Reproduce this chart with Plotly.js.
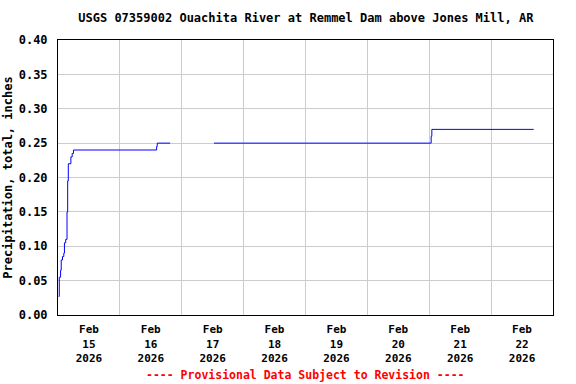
<!DOCTYPE html>
<html>
<head>
<meta charset="utf-8">
<script src="https://cdn.plot.ly/plotly-3.0.1.min.js"></script>
<style>html,body{margin:0;padding:0;background:#fff;}#chart{width:576px;height:384px;}</style>
</head>
<body>
<div id="chart"></div>
<script>
// Cumulative precipitation readings (time when value takes effect, inches)
const times = [
  '2026-02-15 00:15', '2026-02-15 00:30', '2026-02-15 01:00', '2026-02-15 01:15',
  '2026-02-15 01:45', '2026-02-15 02:15', '2026-02-15 02:30', '2026-02-15 03:00',
  '2026-02-15 03:30', '2026-02-15 03:45', '2026-02-15 04:00', '2026-02-15 05:00',
  '2026-02-15 05:30', '2026-02-15 06:00', '2026-02-16 14:15', '2026-02-16 14:30',
  '2026-02-16 19:30', '2026-02-17 00:00', '2026-02-17 12:30', '2026-02-21 00:45',
  '2026-02-21 01:00', '2026-02-22 16:30'
];
const precip = [
  0.027, 0.055, 0.065, 0.08,
  0.085, 0.09, 0.105, 0.11,
  0.15, 0.195, 0.22, 0.23,
  0.235, 0.24, 0.245, 0.25,
  0.25, null, 0.25, 0.26,
  0.27, 0.27
];

// Tick labels (centered on each day)
const tickDates = ['2026-02-15 12:00','2026-02-16 12:00','2026-02-17 12:00','2026-02-18 12:00',
                   '2026-02-19 12:00','2026-02-20 12:00','2026-02-21 12:00','2026-02-22 12:00'];
const tickMonth = ['Feb','Feb','Feb','Feb','Feb','Feb','Feb','Feb'];
const tickDay = ['15','16','17','18','19','20','21','22'];
const tickYear = ['2026','2026','2026','2026','2026','2026','2026','2026'];
const yTicks = [0, 0.05, 0.10, 0.15, 0.20, 0.25, 0.30, 0.35, 0.40];

const titleText = 'USGS 07359002 Ouachita River at Remmel Dam above Jones Mill, AR';
const yTitle = 'Precipitation, total, inches';
const noteText = '---- Provisional Data Subject to Revision ----';

const font = 'DejaVu Sans Mono, monospace';
const tickText = tickMonth.map((m, i) => '<b>' + m + '<br>' + tickDay[i] + '<br>' + tickYear[i] + '</b>');

const trace = {
  x: times, y: precip, type: 'scatter', mode: 'lines',
  line: {color: '#0000ff', width: 1, shape: 'hv'},
  connectgaps: false, hoverinfo: 'skip'
};

const layout = {
  width: 576, height: 384,
  margin: {l: 58, r: 23, t: 40, b: 69},
  paper_bgcolor: '#ffffff', plot_bgcolor: '#ffffff',
  showlegend: false,
  title: {text: '<b>' + titleText + '</b>', x: 0.531, xanchor: 'center', y: 0.953, yanchor: 'middle',
          font: {family: font, size: 12, color: '#000'}},
  xaxis: {
    type: 'date',
    range: ['2026-02-15 00:00', '2026-02-23 00:00'],
    tickmode: 'array', tickvals: tickDates, ticktext: tickText,
    tickfont: {family: font, size: 11, color: '#000'},
    showgrid: false, ticks: '', zeroline: false,
    showline: true, linecolor: '#000', linewidth: 1, mirror: true,
    ticklabelstandoff: 4,
    minor: {tickmode: 'linear', tick0: '2026-02-15 00:00', dtick: 86400000,
            showgrid: true, gridcolor: '#cccccc', gridwidth: 1, ticks: ''}
  },
  yaxis: {
    range: [0, 0.40],
    tickmode: 'array', tickvals: yTicks, ticktext: yTicks.map(v => '<b>' + v.toFixed(2) + '</b>'),
    tickfont: {family: font, size: 12, color: '#000'},
    showgrid: true, gridcolor: '#cccccc', gridwidth: 1, ticks: '', zeroline: false,
    showline: true, linecolor: '#000', linewidth: 1, mirror: true,
    ticklabelstandoff: 7,
    title: {text: '<b>' + yTitle + '</b>', font: {family: font, size: 12, color: '#000'}, standoff: 3}
  },
  annotations: [{
    text: '<b>' + noteText + '</b>', xref: 'paper', yref: 'paper',
    x: 0.5, y: -0.218, xanchor: 'center', yanchor: 'middle', showarrow: false,
    font: {family: font, size: 11.5, color: '#ff0000'}
  }]
};

Plotly.newPlot('chart', [trace], layout, {displayModeBar: false, staticPlot: true});
</script>
</body>
</html>
